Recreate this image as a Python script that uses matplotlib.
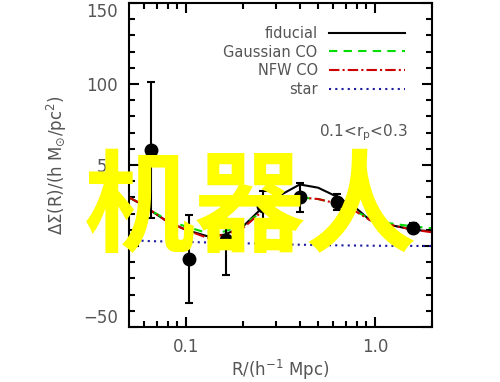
import matplotlib
matplotlib.use('Agg')
import matplotlib.pyplot as plt
from matplotlib.ticker import FixedLocator, NullFormatter, MultipleLocator

# measured points
r_pts = [0.065, 0.104, 0.162, 0.254, 0.40, 0.63, 1.58]
ds_pts = [59, -8, 4, 25, 30, 27, 11]
ds_err = [42, 27, 22, 9, 9, 5, 3]

# model curves
r_mod = [0.05, 0.06, 0.065, 0.08, 0.1, 0.13, 0.16, 0.2, 0.245, 0.3, 0.4, 0.5, 0.64, 0.8, 0.94, 1.2, 1.6, 2.0]
fiducial = [30, 25, 22, 15, 10, 6, 7, 12, 22, 30, 38, 36, 30, 23, 16, 13, 10, 9]
gauss_co = [30, 25, 22, 16, 12, 8, 9, 13, 20, 26, 30, 29, 26, 21, 17, 14, 12, 11]
nfw_co = [30, 25, 22, 15, 10, 5, 7, 11, 20, 26, 30, 29, 26, 21, 16, 13, 10, 8.5]
star = [3.5, 3.2, 3, 2.8, 2.5, 2.2, 2, 1.7, 1.4, 1.1, 0.8, 0.6, 0.4, 0.3, 0.2, 0.1, 0.05, 0]

gray = '#555555'

fig = plt.figure(figsize=(5, 3.82), dpi=100)
ax = fig.add_axes([0.258, 0.144, 0.606, 0.848])

ax.plot(r_mod, fiducial, color='black', lw=1.5, label='fiducial')
ax.plot(r_mod, gauss_co, color='#00dd00', lw=1.5, ls=(0, (4, 3)), label='Gaussian CO')
ax.plot(r_mod, nfw_co, color='#cc0000', lw=1.5, ls=(0, (5, 1.5, 1, 1.5)), label='NFW CO')
ax.plot(r_mod, star, color='#1a1aa0', lw=1.5, ls=(0, (1, 2)), label='star')
ax.errorbar(r_pts, ds_pts, yerr=ds_err, fmt='o', color='black', ms=9,
            elinewidth=1.5, capsize=3, capthick=1.5)

ax.set_xscale('log')
ax.set_xlim(0.05, 2.0)
ax.set_ylim(-50, 150)
ax.xaxis.set_major_locator(FixedLocator([0.1, 1.0]))
ax.xaxis.set_minor_locator(FixedLocator([0.06, 0.07, 0.08, 0.09, 0.2, 0.3, 0.4, 0.5, 0.6, 0.7, 0.8, 0.9, 2.0]))
ax.xaxis.set_minor_formatter(NullFormatter())
ax.set_xticklabels(['0.1', '1.0'])
ax.yaxis.set_major_locator(MultipleLocator(50))
ax.yaxis.set_minor_locator(MultipleLocator(10))
ax.tick_params(which='both', direction='in', top=True, right=True, width=1.5,
               labelsize=12, labelcolor=gray, pad=8)
ax.tick_params(which='major', length=7)
ax.tick_params(which='minor', length=4)
for s in ax.spines.values():
    s.set_linewidth(1.5)

# keep the end labels inside the figure like the original
fig.canvas.draw()
for lab in ax.get_yticklabels():
    if lab.get_text() == '150':
        lab.set_va('top')
    elif lab.get_text() in ('−50', '-50'):
        lab.set_va('bottom')

ax.set_xlabel(r'R/(h$^{-1}$ Mpc)', fontsize=12, color=gray, labelpad=1)
ax.set_ylabel(r'$\Delta\Sigma$(R)/(h M$_{\odot}$/pc$^2$)', fontsize=12, color=gray, labelpad=10)

ax.legend(loc='upper right', frameon=False, markerfirst=False, fontsize=10.5,
          handlelength=5.2, labelcolor=gray, labelspacing=0.25,
          bbox_to_anchor=(0.955, 0.97))
ax.text(0.92, 0.6, r'0.1<r$_{\rm p}$<0.3', transform=ax.transAxes, ha='right',
        va='center', fontsize=11, color=gray)

fig.text(0.5, 0.447, '机器人', fontsize=80, fontweight='bold', color='#ffff00',
         family=['Noto Sans CJK SC', 'DejaVu Sans'], ha='center', va='center')

fig.savefig('out.png', dpi=100)
